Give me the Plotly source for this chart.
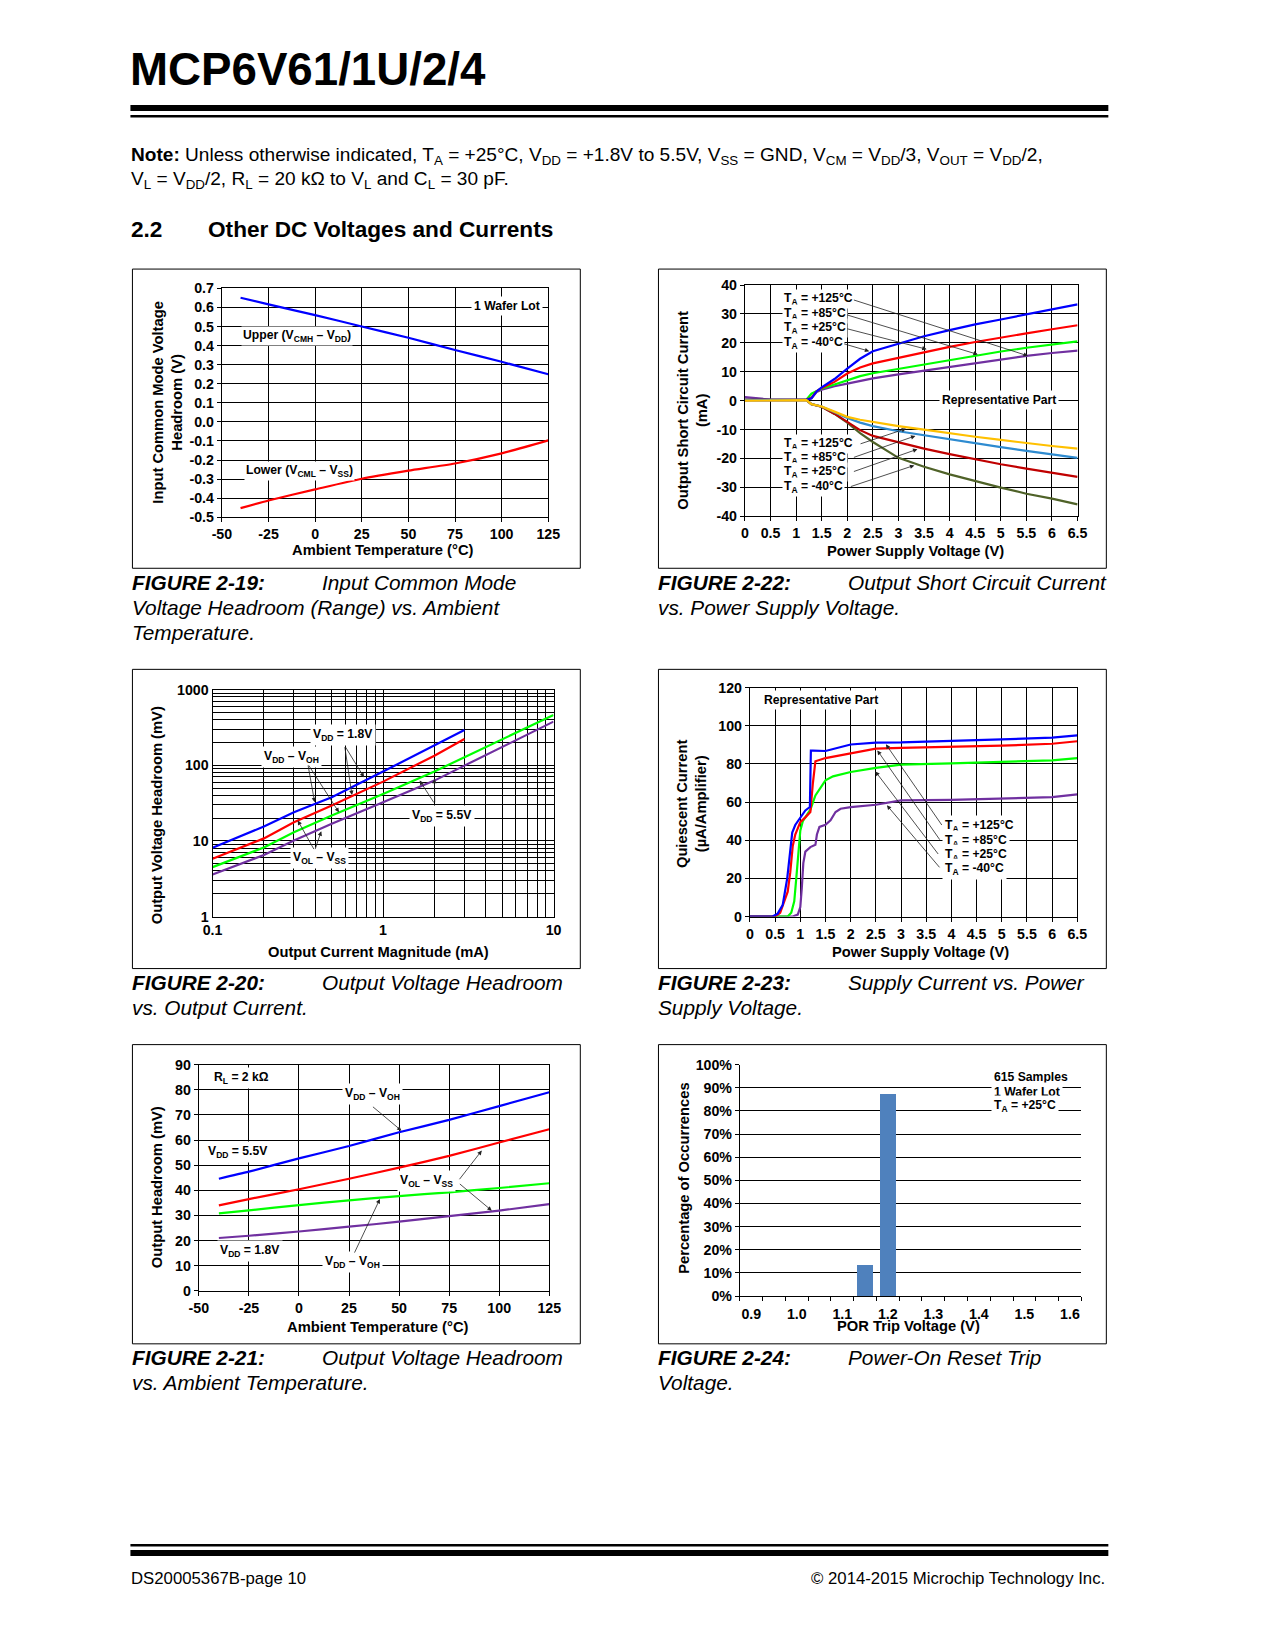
import math
import plotly.graph_objects as go

# page is 1275 x 1650; the browser body keeps its default 8px margin,
# so the figure is 16px smaller.  Positions below are written in target page pixels
# and mapped through a small linear correction measured on earlier renders.
W, H = 1275, 1650
OFF = 8
FW, FH = W - 2 * OFF, H - 2 * OFF
AX, BX = 10.95, 0.9806
AY, BY = 8.2, 0.9895
S = 1.0 / ((BX + BY) / 2)
FONT = "Liberation Sans"

# ---------------- data ----------------
# FIGURE 2-19
temp_19 = [-40, -25, 0, 25, 50, 75, 100, 125]
upper_19 = [0.651, 0.616, 0.560, 0.500, 0.441, 0.377, 0.315, 0.250]
lower_19 = [-0.452, -0.412, -0.354, -0.298, -0.256, -0.218, -0.165, -0.097]
xticks_19 = [-50, -25, 0, 25, 50, 75, 100, 125]
yticks_19 = [-0.5, -0.4, -0.3, -0.2, -0.1, 0.0, 0.1, 0.2, 0.3, 0.4, 0.5, 0.6, 0.7]

# FIGURE 2-22
vdd_22 = [0, 0.5, 1.0, 1.2, 1.3, 1.4, 1.5, 1.75, 2.0, 2.25, 2.5, 3.0, 3.5, 4.0, 4.5, 5.0, 5.5, 6.0, 6.5]
src_m40 = [0.3, 0.3, 0.3, 0.3, 0.8, 3.2, 4.6, 7.5, 11.1, 14.5, 17.1, 19.8, 22.3, 24.4, 26.4, 28.1, 29.8, 31.6, 33.3]
src_p25 = [0.3, 0.3, 0.3, 0.3, 1.0, 3.2, 4.4, 6.5, 9.4, 11.5, 12.9, 14.8, 16.8, 18.6, 20.3, 21.9, 23.3, 24.7, 26.1]
src_p85 = [0.3, 0.3, 0.3, 0.3, 2.4, 3.3, 4.2, 5.6, 7.1, 8.5, 9.5, 11.0, 12.5, 14.0, 15.6, 17.0, 18.3, 19.4, 20.5]
src_p125 = [1.2, 0.4, 0.3, 0.3, 0.8, 3.0, 3.8, 5.0, 5.9, 6.9, 7.7, 9.1, 10.4, 11.7, 12.9, 14.2, 15.5, 16.5, 17.3]
snk_p125 = [0.0, 0.1, 0.2, 0.2, -1.2, -1.6, -2.0, -3.8, -5.6, -6.6, -7.4, -8.8, -10.0, -11.3, -12.5, -13.6, -14.7, -15.7, -16.6]
snk_p85 = [0.2, 0.2, 0.2, 0.2, -1.2, -1.6, -2.0, -4.0, -6.0, -7.6, -8.8, -10.6, -12.0, -13.5, -14.8, -16.1, -17.4, -18.5, -19.8]
snk_p25 = [0.2, 0.2, 0.2, 0.2, -1.2, -1.6, -2.1, -4.5, -7.3, -10.2, -12.2, -14.5, -16.6, -18.5, -20.3, -22.0, -23.5, -24.9, -26.4]
snk_m40 = [0.2, 0.2, 0.2, 0.2, -1.2, -1.6, -2.1, -4.6, -7.6, -11.2, -14.3, -19.8, -22.9, -25.5, -27.9, -30.1, -32.2, -33.9, -35.9]
xticks_22 = [0, 0.5, 1, 1.5, 2, 2.5, 3, 3.5, 4, 4.5, 5, 5.5, 6, 6.5]
yticks_22 = [-40, -30, -20, -10, 0, 10, 20, 30, 40]

# FIGURE 2-20
iout_18 = [0.1, 0.2, 0.3, 0.5, 1, 2, 3]
iout_55 = [0.1, 0.2, 0.3, 0.5, 1, 2, 3, 5, 10]
voh_18 = [8.1, 15.5, 23.9, 37.8, 82.5, 182, 293]
vol_18 = [5.8, 10.8, 17.6, 29.3, 60.8, 134, 223]
voh_55 = [4.5, 8.2, 13.0, 21.6, 41.8, 82.5, 128, 223, 462]
vol_55 = [3.6, 6.5, 10.1, 16.8, 32.4, 62.7, 99, 173, 378]
xgrid_20 = [0.1, 0.2, 0.3, 0.4, 0.5, 0.6, 0.7, 0.8, 0.9, 1, 2, 3, 4, 5, 6, 7, 8, 9, 10]
xlab_20 = ["0.1", "", "", "", "", "", "", "", "", "1", "", "", "", "", "", "", "", "", "10"]
ygrid_20 = [1, 2, 3, 4, 5, 6, 7, 8, 9, 10, 20, 30, 40, 50, 60, 70, 80, 90,
            100, 200, 300, 400, 500, 600, 700, 800, 900, 1000]
ylab_20 = ["1"] + [""] * 8 + ["10"] + [""] * 8 + ["100"] + [""] * 8 + ["1000"]

# FIGURE 2-23
vdd_125 = [0, 0.45, 0.55, 0.65, 0.74, 0.8, 0.84, 0.9, 0.975, 1.1, 1.19, 1.21, 1.25, 1.5, 2.0, 2.5, 3.0, 4.0, 5.0, 6.0, 6.5]
iq_125 = [0, 0, 1.5, 6, 20, 35, 44, 48, 51, 55.6, 57.4, 87, 87, 86.8, 90.2, 91.2, 91.3, 91.9, 92.9, 93.8, 95]
vdd_85 = [0, 0.5, 0.6, 0.75, 0.8, 0.85, 0.9, 1.0, 1.1, 1.2, 1.25, 1.3, 1.5, 2.0, 2.5, 3.0, 4.0, 5.0, 6.0, 6.5]
iq_85 = [0, 0, 2, 13, 23, 37, 43, 49.5, 52, 54.8, 70, 81.4, 83.1, 85.4, 88, 88.4, 88.9, 89.6, 90.6, 91.9]
vdd_25 = [0, 0.75, 0.82, 0.88, 0.92, 0.96, 1.0, 1.05, 1.1, 1.2, 1.3, 1.4, 1.5, 1.65, 2.0, 2.5, 3.0, 4.0, 5.0, 6.0, 6.5]
iq_25 = [0, 0, 2, 8, 20, 35, 45, 50, 52, 56, 63.5, 67.5, 71.4, 73.5, 75.8, 77.9, 79.6, 80.3, 81.0, 81.9, 83.1]
vdd_m40 = [0, 0.85, 0.95, 1.0, 1.03, 1.06, 1.1, 1.2, 1.3, 1.33, 1.38, 1.5, 1.6, 1.7, 1.8, 2.0, 2.5, 3.0, 4.0, 5.0, 6.0, 6.5]
iq_m40 = [0, 0, 1, 5, 15, 28, 34, 36.4, 37.6, 43, 47, 48.1, 50.4, 54.8, 56.5, 57.4, 58.6, 60.9, 61.2, 61.8, 62.6, 64]
yticks_23 = [0, 20, 40, 60, 80, 100, 120]

# FIGURE 2-21
temp_21 = [-40, -25, 0, 25, 50, 75, 100, 125]
voh55_21 = [44.6, 47.4, 52.7, 57.6, 63.1, 68.0, 73.5, 79.0]
vol55_21 = [34.0, 36.5, 40.4, 44.6, 49.0, 53.7, 59.0, 64.3]
voh18_21 = [30.8, 32.0, 34.1, 36.0, 37.7, 39.2, 40.9, 42.8]
vol18_21 = [21.0, 21.9, 23.6, 25.5, 27.5, 29.7, 31.9, 34.5]
yticks_21 = [0, 10, 20, 30, 40, 50, 60, 70, 80, 90]

# FIGURE 2-24
por_v = [1.15, 1.20]
por_pct = [13.4, 87.6]
xticks_24 = [0.9, 1.0, 1.1, 1.2, 1.3, 1.4, 1.5, 1.6]
yticks_24 = [0, 10, 20, 30, 40, 50, 60, 70, 80, 90, 100]

BLUE, RED, GREEN, PURPLE = "#0000FF", "#FF0000", "#00FF00", "#7030A0"
GOLD, LBLUE, DRED, OLIVE = "#FFC000", "#2E8BD0", "#C00000", "#4F6228"

# ---------------- helpers (page pixel -> paper) ----------------
def qx(x):
    return ((x - AX) / BX - OFF) / FW

def qy(y):
    return 1 - ((y - AY) / BY - OFF) / FH

def P(x, y):
    return qx(x), qy(y)

def F(s):
    return round(s * S, 2)

annotations = []
shapes = []

def txt(text, x, y, size=12, xanchor="center", yanchor="middle", bg=None,
        angle=0, align="center", pad=1):
    xp, yp = P(x, y)
    d = dict(text=text, x=xp, y=yp, xref="paper", yref="paper",
             xanchor=xanchor, yanchor=yanchor, showarrow=False,
             font=dict(family=FONT, size=F(size), color="black"),
             textangle=angle, align=align, borderpad=pad)
    if bg:
        d["bgcolor"] = bg
    annotations.append(d)

def arrow(n, x, y, ax, ay):
    s = "" if n == 1 else str(n)
    annotations.append(dict(x=x, y=y, ax=ax, ay=ay, xref="x" + s, yref="y" + s,
                            axref="x" + s, ayref="y" + s, text="", showarrow=True,
                            arrowhead=2, arrowsize=1.1, arrowwidth=0.8,
                            arrowcolor="#222222", standoff=0, startstandoff=0))

def rect(x0, y0, x1, y1, fill=None, lw=1):
    a0, b0 = P(x0, y0)
    a1, b1 = P(x1, y1)
    d = dict(type="rect", xref="paper", yref="paper", x0=a0, y0=b1, x1=a1, y1=b0,
             line=dict(color="black", width=lw))
    if fill:
        d["fillcolor"] = fill
        d["line"] = dict(width=0)
    shapes.append(d)

def dom_x(a, b):
    return [qx(a), qx(b)]

def dom_y(top, bottom):
    return [qy(bottom), qy(top)]

TICKFONT = dict(family=FONT, size=F(14), color="black", weight="bold")

def axis(domain, rng, anchor, **kw):
    d = dict(domain=domain, range=rng, anchor=anchor, showline=True, linecolor="black",
             linewidth=1.2, mirror=True, ticks="outside", ticklen=4, tickwidth=1,
             tickcolor="black", showgrid=True, gridcolor="black", gridwidth=1,
             zeroline=False, tickfont=TICKFONT, fixedrange=True)
    d.update(kw)
    return d

fig = go.Figure()

def line(x, y, color, n, shape="linear"):
    s = "" if n == 1 else str(n)
    fig.add_trace(go.Scatter(x=x, y=y, mode="lines", xaxis="x" + s, yaxis="y" + s,
                             line=dict(color=color, width=2.2, shape=shape, smoothing=0.6),
                             showlegend=False, hoverinfo="skip"))

# ---------------- traces ----------------
line(temp_19, upper_19, BLUE, 1, "spline")
line(temp_19, lower_19, RED, 1, "spline")

for ys, c in [(src_p125, PURPLE), (src_p85, GREEN), (src_p25, RED), (src_m40, BLUE),
              (snk_m40, OLIVE), (snk_p25, DRED), (snk_p85, LBLUE), (snk_p125, GOLD)]:
    line(vdd_22, ys, c, 2)

line(iout_55, vol_55, PURPLE, 3)
line(iout_55, voh_55, GREEN, 3)
line(iout_18, vol_18, RED, 3)
line(iout_18, voh_18, BLUE, 3)

line(vdd_m40, iq_m40, PURPLE, 4)
line(vdd_25, iq_25, GREEN, 4)
line(vdd_85, iq_85, RED, 4)
line(vdd_125, iq_125, BLUE, 4)

line(temp_21, vol18_21, PURPLE, 5, "spline")
line(temp_21, voh18_21, GREEN, 5, "spline")
line(temp_21, vol55_21, RED, 5, "spline")
line(temp_21, voh55_21, BLUE, 5, "spline")

fig.add_trace(go.Bar(x=por_v, y=por_pct, xaxis="x6", yaxis="y6", width=0.034,
                     marker=dict(color="#4F81BD", line=dict(width=0)),
                     showlegend=False, hoverinfo="skip"))

# ---------------- axes ----------------
layout_axes = dict(
    xaxis=axis(dom_x(222.3, 548), [-50, 125], "y", tickvals=xticks_19,
               ticktext=[str(v) for v in xticks_19]),
    yaxis=axis(dom_y(288.3, 517), [-0.5, 0.7], "x", tickvals=yticks_19,
               ticktext=[f"{v:.1f}" for v in yticks_19]),
    xaxis2=axis(dom_x(744.3, 1076.3), [0, 6.5], "y2", tickvals=xticks_22,
                ticktext=[f"{v:g}" for v in xticks_22]),
    yaxis2=axis(dom_y(285, 516), [-40, 40], "x2", tickvals=yticks_22,
                ticktext=[str(v) for v in yticks_22]),
    xaxis3=axis(dom_x(213, 553.3), [-1, 1], "y3", type="log", tickvals=xgrid_20,
                ticktext=xlab_20, ticks=""),
    yaxis3=axis(dom_y(689.3, 916), [0, 3], "x3", type="log", tickvals=ygrid_20,
                ticktext=ylab_20, ticks=""),
    xaxis4=axis(dom_x(749.3, 1076), [0, 6.5], "y4", tickvals=xticks_22,
                ticktext=[f"{v:g}" for v in xticks_22]),
    yaxis4=axis(dom_y(687.3, 916), [0, 120], "x4", tickvals=yticks_23,
                ticktext=[str(v) for v in yticks_23]),
    xaxis5=axis(dom_x(199.3, 549), [-50, 125], "y5", tickvals=xticks_19,
                ticktext=[str(v) for v in xticks_19]),
    yaxis5=axis(dom_y(1064, 1290), [0, 90], "x5", tickvals=yticks_21,
                ticktext=[str(v) for v in yticks_21]),
    xaxis6=axis(dom_x(739.3, 1080), [0.875, 1.625], "y6", mirror=False, showgrid=False,
                tickvals=xticks_24, ticktext=[f"{v:.1f}" for v in xticks_24], ticks="",
                ticklabelstandoff=5,
                minor=dict(tickmode="array",
                           tickvals=[0.875 + 0.05 * k for k in range(16)],
                           ticks="outside", ticklen=4, tickcolor="black", showgrid=False)),
    yaxis6=axis(dom_y(1064, 1295.3), [0, 100], "x6", mirror=False, tickvals=yticks_24,
                ticktext=[f"{v}%" for v in yticks_24]),
)

# ---------------- page furniture ----------------
txt("<b>MCP6V61/1U/2/4</b>", 129, 70, size=45, xanchor="left")
rect(131, 105, 1107, 111, fill="black")
rect(131, 115, 1107, 117.5, fill="black")

txt("<b>Note:</b> Unless otherwise indicated, T<sub>A</sub> = +25°C, V<sub>DD</sub> = +1.8V to 5.5V, "
    "V<sub>SS</sub> = GND, V<sub>CM</sub> = V<sub>DD</sub>/3, V<sub>OUT</sub> = V<sub>DD</sub>/2,",
    130, 156, size=18.8, xanchor="left")
txt("V<sub>L</sub> = V<sub>DD</sub>/2, R<sub>L</sub> = 20 kΩ to V<sub>L</sub> and C<sub>L</sub> = 30 pF.",
    130, 180, size=18.8, xanchor="left")
txt("<b>2.2</b>", 130, 229, size=22.3, xanchor="left")
txt("<b>Other DC Voltages and Currents</b>", 206, 229, size=22.3, xanchor="left")

# chart boxes
for (x0, y0) in [(133, 269), (658, 269), (133, 669), (658, 669), (133, 1044), (658, 1044)]:
    rect(x0, y0, x0 + 447, y0 + 299)

# captions
caps = [
    (131, 582, "FIGURE 2-19:", "Input Common Mode",
     ["Voltage Headroom (Range) vs. Ambient", "Temperature."]),
    (656, 582, "FIGURE 2-22:", "Output Short Circuit Current", ["vs. Power Supply Voltage."]),
    (131, 982, "FIGURE 2-20:", "Output Voltage Headroom", ["vs. Output Current."]),
    (656, 982, "FIGURE 2-23:", "Supply Current vs. Power", ["Supply Voltage."]),
    (131, 1357, "FIGURE 2-21:", "Output Voltage Headroom", ["vs. Ambient Temperature."]),
    (656, 1357, "FIGURE 2-24:", "Power-On Reset Trip", ["Voltage."]),
]
for x, y, fig_lbl, first, rest in caps:
    txt(f"<b><i>{fig_lbl}</i></b>", x, y, size=20.5, xanchor="left")
    txt(f"<i>{first}</i>", x + 189, y, size=20.5, xanchor="left")
    for i, r in enumerate(rest):
        txt(f"<i>{r}</i>", x, y + 25 * (i + 1), size=20.5, xanchor="left")

# footer
rect(131, 1543, 1107, 1545.5, fill="black")
rect(131, 1549, 1107, 1555, fill="black")
txt("DS20005367B-page 10", 130, 1577, size=16.5, xanchor="left")
txt("© 2014-2015 Microchip Technology Inc.", 1106, 1577, size=16.5, xanchor="right")

# ---------------- chart texts ----------------
# 2-19
txt("<b>Input Common Mode Voltage<br>Headroom (V)</b>", 168.3, 401.7, size=14.5, angle=-90)
txt("<b>Ambient Temperature (°C)</b>", 383.3, 550, size=14.5)
txt("<b>1 Wafer Lot</b>", 506.7, 305.7, size=12, bg="white", pad=2)
txt("<b>Upper (V<sub>CMH</sub> – V<sub>DD</sub>)</b>", 241, 336, size=12, xanchor="left", bg="white")
txt("<b>Lower (V<sub>CML</sub> – V<sub>SS</sub>)</b>", 244, 471, size=12, xanchor="left", bg="white")

# 2-22
txt("<b>Output Short Circuit Current<br>(mA)</b>", 692, 410, size=14.5, angle=-90)
txt("<b>Power Supply Voltage (V)</b>", 915, 551, size=14.5)
txt("<b>Representative Part</b>", 998.3, 400.3, size=12, bg="white", pad=2)
for i, t in enumerate(["+125°C", "+85°C", "+25°C", "-40°C"]):
    txt(f"<b>T<sub>A</sub> = {t}</b>", 781, [299.3, 314.3, 328.3, 343.3][i], size=12,
        xanchor="left", bg="white", pad=1)
    txt(f"<b>T<sub>A</sub> = {t}</b>", 781, [444, 457.7, 471.7, 486.7][i], size=12,
        xanchor="left", bg="white", pad=1)
arrow(2, 5.53, 15.5, 2.10, 35.0)
arrow(2, 4.55, 16.0, 1.97, 29.8)
arrow(2, 3.55, 17.8, 1.97, 25.0)
arrow(2, 2.43, 17.1, 1.91, 19.8)
arrow(2, 3.15, -9.7, 2.23, -15.1)
arrow(2, 3.33, -12.2, 2.10, -19.8)
arrow(2, 3.37, -16.8, 2.10, -24.7)
arrow(2, 3.31, -22.4, 2.04, -29.9)

# 2-20 (log axes -> annotation coords in log10)
L = math.log10
txt("<b>Output Voltage Headroom (mV)</b>", 158.3, 815, size=14.5, angle=-90)
txt("<b>Output Current Magnitude (mA)</b>", 378.3, 951, size=14.5)
txt("<b>V<sub>DD</sub> = 1.8V</b>", 343.3, 735, size=12, bg="white", pad=2)
txt("<b>V<sub>DD</sub> – V<sub>OH</sub></b>", 291.7, 756.7, size=12, bg="white", pad=2)
txt("<b>V<sub>OL</sub> – V<sub>SS</sub></b>", 320, 857.7, size=12, bg="white", pad=2)
txt("<b>V<sub>DD</sub> = 5.5V</b>", 441.7, 815.7, size=12, bg="white", pad=2)
arrow(3, L(0.773), L(69.4), L(0.595), L(182))
arrow(3, L(0.657), L(40.5), L(0.595), L(182))
arrow(3, L(0.397), L(32.4), L(0.362), L(104))
arrow(3, L(0.551), L(23.9), L(0.362), L(104))
arrow(3, L(0.316), L(18.6), L(0.397), L(7.45))
arrow(3, L(0.434), L(13.4), L(0.397), L(7.45))
arrow(3, L(1.64), L(62.7), L(2.01), L(30.8))
arrow(3, L(2.0), L(66.0), L(2.01), L(30.8))

# 2-23
txt("<b>Quiescent Current<br>(µA/Amplifier)</b>", 690.8, 803.3, size=14.5, angle=-90)
txt("<b>Power Supply Voltage (V)</b>", 920, 951, size=14.5)
txt("<b>Representative Part</b>", 760, 699.3, size=12, xanchor="left", bg="white", pad=2)
for i, t in enumerate(["+125°C", "+85°C", "+25°C", "-40°C"]):
    txt(f"<b>T<sub>A</sub> = {t}</b>", 941, [826, 840.7, 855, 868.3][i], size=12,
        xanchor="left", bg="white", pad=2)
arrow(4, 2.70, 90.3, 3.83, 47.2)
arrow(4, 2.53, 87.1, 3.79, 39.5)
arrow(4, 2.49, 76.1, 3.76, 32.0)
arrow(4, 2.72, 58.3, 3.79, 25.0)

# 2-21
txt("<b>Output Headroom (mV)</b>", 158.3, 1186.7, size=14.5, angle=-90)
txt("<b>Ambient Temperature (°C)</b>", 378.3, 1326, size=14.5)
txt("<b>R<sub>L</sub> = 2 kΩ</b>", 211, 1077, size=12, xanchor="left", bg="white", pad=2)
txt("<b>V<sub>DD</sub> – V<sub>OH</sub></b>", 372.7, 1093.3, size=12, bg="white", pad=2)
txt("<b>V<sub>DD</sub> = 5.5V</b>", 238.3, 1151, size=12, bg="white", pad=2)
txt("<b>V<sub>OL</sub> – V<sub>SS</sub></b>", 426, 1180, size=12, bg="white", pad=2)
txt("<b>V<sub>DD</sub> = 1.8V</b>", 250, 1250.7, size=12, bg="white", pad=2)
txt("<b>V<sub>DD</sub> – V<sub>OH</sub></b>", 352.7, 1261.7, size=12, bg="white", pad=2)
arrow(5, 51.2, 63.7, 36.2, 73.7)
arrow(5, 91.3, 55.8, 79.6, 43.8)
arrow(5, 96.3, 31.9, 79.6, 43.0)
arrow(5, 40.4, 36.5, 27.4, 14.6)

# 2-24
txt("<b>Percentage of Occurrences</b>", 683.3, 1177.3, size=14.5, angle=-90)
txt("<b>POR Trip Voltage (V)</b>", 908, 1325, size=14.5)
for i, t in enumerate(["615 Samples", "1 Wafer Lot", "T<sub>A</sub> = +25°C"]):
    txt(f"<b>{t}</b>", 990, [1076.7, 1091, 1105.3][i], size=12, xanchor="left",
        bg="white", pad=2)

fig.update_layout(
    width=FW, height=FH, autosize=False,
    margin=dict(l=0, r=0, t=0, b=0),
    paper_bgcolor="white", plot_bgcolor="white",
    showlegend=False, bargap=0,
    annotations=annotations, shapes=shapes,
    font=dict(family=FONT, color="black"),
    **layout_axes,
)

fig.write_html(
    "out.html",
    default_width=f"{FW}px",
    default_height=f"{FH}px",
    config={"responsive": False, "displayModeBar": False},
)
